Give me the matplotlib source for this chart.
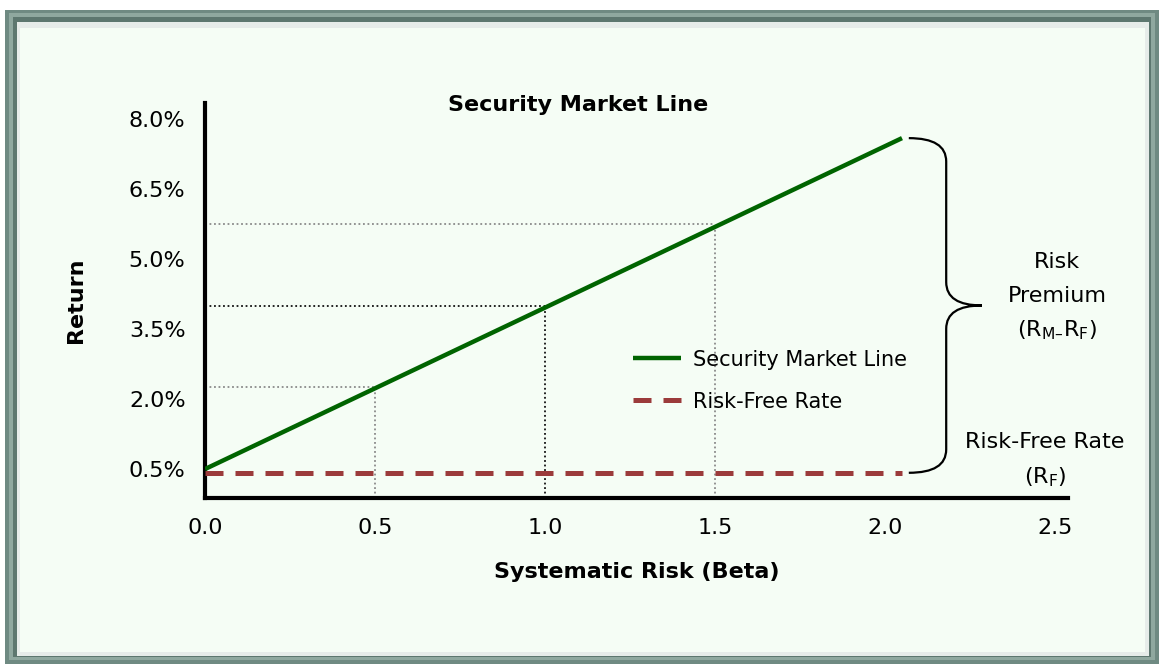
import matplotlib
matplotlib.use("Agg")
import matplotlib.pyplot as plt
from matplotlib.patches import Rectangle, PathPatch
from matplotlib.path import Path

plt.rcParams.update({
    "font.family": "DejaVu Sans",
    "font.size": 16,
})

# security market line: beta vs expected return (%)
sml_beta = [0.0, 2.05]
sml_return = [0.5, 7.6]

# risk-free rate drawn across the same beta range
rf_beta = [0.0, 2.05]
rf_return = [0.42, 0.42]

# reference points on the line, with guide lines back to the axes
guide_beta = [0.5, 1.0, 1.5]
guide_return = [2.25, 4.0, 5.75]
guide_color = ["#8a8a8a", "#111111", "#8a8a8a"]

x_ticks = [0.0, 0.5, 1.0, 1.5, 2.0, 2.5]
y_ticks = [0.5, 2.0, 3.5, 5.0, 6.5, 8.0]

BG = "#f5fdf5"
GREEN = "#006400"
RED = "#9b3b3b"

W, H = 1159, 664
fig = plt.figure(figsize=(W / 100, H / 100), dpi=100)
fig.patch.set_facecolor("white")

# bevelled frame drawn in pixel space
frame = fig.add_axes([0, 0, 1, 1], zorder=-5)
frame.set_xlim(0, W)
frame.set_ylim(H, 0)
frame.axis("off")
frame.add_patch(Rectangle((5, 10), W - 5, H - 10, facecolor="#6f8a82", edgecolor="none"))
frame.add_patch(Rectangle((9, 13), W - 13, H - 17, facecolor="#8fa89f", edgecolor="none"))
frame.add_patch(Rectangle((13, 17), W - 21, H - 24, facecolor="#5d776f", edgecolor="none"))
frame.add_patch(Rectangle((17, 22), W - 27, H - 30, facecolor="#e6ece9", edgecolor="none"))
frame.add_patch(Rectangle((20, 28), W - 34, H - 40, facecolor=BG, edgecolor="none"))

ax = fig.add_axes([205 / W, 1 - 497.5 / H, 863 / W, 394.8 / H])
ax.set_facecolor("none")
ax.set_xlim(0, 863 / 340)
ax.set_ylim(-0.11, 8.36)

for b, r, c in zip(guide_beta, guide_return, guide_color):
    ax.plot([0, b], [r, r], color=c, lw=1.3, ls=(0, (1, 1.5)), zorder=2)
    ax.plot([b, b], [ax.get_ylim()[0], r], color=c, lw=1.3, ls=(0, (1, 1.5)), zorder=2)

ax.plot(sml_beta, sml_return, color=GREEN, lw=3.2, solid_capstyle="butt",
        label="Security Market Line", zorder=3)
ax.plot(rf_beta, rf_return, color=RED, lw=3.6, ls=(0, (3.6, 2.4)),
        label="Risk-Free Rate", zorder=3)

for s in ["top", "right"]:
    ax.spines[s].set_visible(False)
for s in ["left", "bottom"]:
    ax.spines[s].set_linewidth(3)
    ax.spines[s].set_color("black")

ax.set_xticks(x_ticks)
ax.set_xticklabels([f"{t:.1f}" for t in x_ticks])
ax.set_yticks(y_ticks)
ax.set_yticklabels([f"{t:.1f}%" for t in y_ticks])
ax.tick_params(length=0, labelsize=16)
ax.tick_params(axis="x", pad=15)
ax.tick_params(axis="y", pad=14)

ax.set_xlabel("Systematic Risk (Beta)", fontweight="bold", fontsize=16, labelpad=17)
ax.set_ylabel("Return", fontweight="bold", fontsize=16, labelpad=31)
fig.text(578 / W, 1 - 105 / H, "Security Market Line", fontweight="bold",
         fontsize=16, ha="center", va="center")

ax.legend(loc="upper left", bbox_to_anchor=(614 / W, 1 - 331 / H),
          bbox_transform=fig.transFigure, frameon=False, fontsize=15,
          handlelength=2.3, handletextpad=0.6, labelspacing=1.05)

# curly brace spanning the risk premium and the risk-free rate
x0, xv, xt = 2.07, 2.18, 2.285
ytop, ybot = sml_return[-1], rf_return[-1]
ymid = (ytop + ybot) / 2
r = 0.5
verts = [(x0, ytop), (xv, ytop), (xv, ytop - r),
         (xv, ymid + r),
         (xv, ymid), (xt, ymid),
         (xv, ymid), (xv, ymid - r),
         (xv, ybot + r),
         (xv, ybot), (x0, ybot)]
codes = [Path.MOVETO, Path.CURVE3, Path.CURVE3,
         Path.LINETO,
         Path.CURVE3, Path.CURVE3,
         Path.CURVE3, Path.CURVE3,
         Path.LINETO,
         Path.CURVE3, Path.CURVE3]
ax.add_patch(PathPatch(Path(verts, codes), facecolor="none", edgecolor="black",
                       lw=1.6, clip_on=False))

fig.text(1057 / W, 1 - 262 / H, "Risk", fontsize=16, ha="center", va="center")
fig.text(1057 / W, 1 - 296 / H, "Premium", fontsize=16, ha="center", va="center")
fig.text(1057 / W, 1 - 330 / H, "(R$_{\\mathrm{M\u2013}}$R$_{\\mathrm{F}}$)", fontsize=16,
         ha="center", va="center")
fig.text(1045 / W, 1 - 442 / H, "Risk-Free Rate", fontsize=16, ha="center", va="center")
fig.text(1045 / W, 1 - 477 / H, r"(R$_{\mathrm{F}}$)", fontsize=16, ha="center", va="center")

fig.savefig("out.png", dpi=100, facecolor=fig.get_facecolor())
